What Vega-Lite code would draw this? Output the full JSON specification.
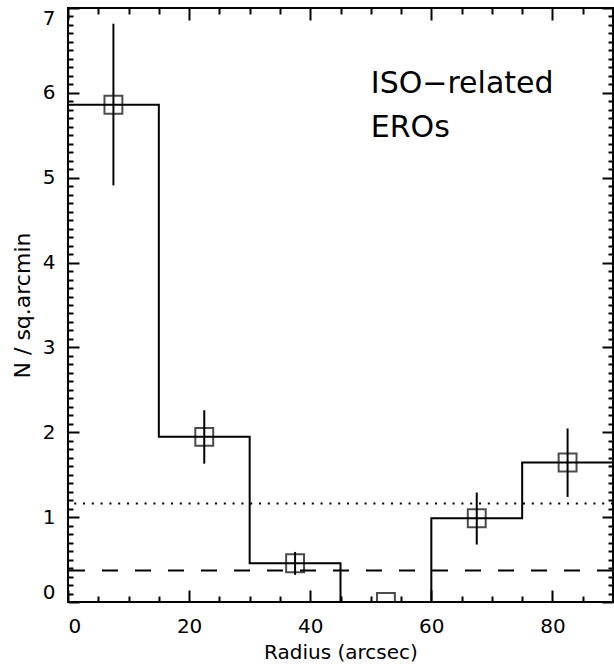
{
  "$schema": "https://vega.github.io/schema/vega-lite/v6.json",
  "width": 545,
  "height": 594,
  "autosize": "none",
  "padding": {"left": 68, "top": 8, "right": 1, "bottom": 64},
  "background": "white",
  "config": {
    "view": {"stroke": "black", "strokeWidth": 2},
    "font": "DejaVu Sans",
    "axis": {
      "grid": false,
      "domain": false,
      "ticks": true,
      "tickColor": "black",
      "tickWidth": 2,
      "labelColor": "black",
      "titleColor": "black",
      "labelFont": "DejaVu Sans",
      "titleFont": "DejaVu Sans",
      "labelFontSize": 20,
      "titleFontWeight": "normal"
    }
  },
  "datasets": {
    "bins": [
      {"r": 7.5, "n": 5.86, "lo": 4.91, "hi": 6.815},
      {"r": 22.5, "n": 1.946, "lo": 1.63, "hi": 2.26},
      {"r": 37.5, "n": 0.456, "lo": 0.32, "hi": 0.59},
      {"r": 52.5, "n": 0.0, "lo": 0.0, "hi": 0.0},
      {"r": 67.5, "n": 0.987, "lo": 0.677, "hi": 1.29},
      {"r": 82.5, "n": 1.644, "lo": 1.238, "hi": 2.045}
    ],
    "steps": [
      {"edge": 0, "n": 5.86},
      {"edge": 15, "n": 1.946},
      {"edge": 30, "n": 0.456},
      {"edge": 45, "n": 0.0},
      {"edge": 60, "n": 0.987},
      {"edge": 75, "n": 1.644},
      {"edge": 90, "n": 1.644}
    ],
    "refs": [
      {"level": 1.16, "kind": "dotted"},
      {"level": 0.37, "kind": "dashed"}
    ],
    "labels": [
      {"x": 50, "y": 6.0, "txt": "ISO−related"},
      {"x": 50, "y": 5.48, "txt": "EROs"}
    ]
  },
  "layer": [
    {
      "data": {"name": "steps"},
      "mark": {"type": "line", "interpolate": "step-after", "color": "black", "strokeWidth": 2, "clip": true},
      "encoding": {
        "x": {
          "field": "edge", "type": "quantitative",
          "scale": {"domain": [0, 90], "nice": false, "zero": false},
          "axis": {"orient": "bottom", "values": [0, 20, 40, 60, 80], "offset": -12, "tickSize": 12, "labelPadding": 14,
                   "title": "Radius (arcsec)", "titleFontSize": 20, "titlePadding": 6}
        },
        "y": {
          "field": "n", "type": "quantitative",
          "scale": {"domain": [0, 7], "nice": false, "zero": false},
          "axis": {"orient": "left", "values": [0, 1, 2, 3, 4, 5, 6, 7], "offset": -11, "tickSize": 11, "labelPadding": 13,
                   "labelFlush": true, "title": "N / sq.arcmin", "titleFontSize": 22, "titlePadding": 8}
        }
      }
    },
    {
      "data": {"name": "bins"},
      "mark": {"type": "rule", "color": "black", "strokeWidth": 2},
      "encoding": {
        "x": {"field": "r", "type": "quantitative",
              "axis": {"orient": "bottom", "values": [5, 10, 15, 25, 30, 35, 45, 50, 55, 65, 70, 75, 85], "offset": -6, "tickSize": 6, "labels": false, "title": null}},
        "y": {"field": "lo", "type": "quantitative",
              "axis": {"orient": "left", "values": [0.1,0.2,0.3,0.4,0.5,0.6,0.7,0.8,0.9,1.1,1.2,1.3,1.4,1.5,1.6,1.7,1.8,1.9,2.1,2.2,2.3,2.4,2.5,2.6,2.7,2.8,2.9,3.1,3.2,3.3,3.4,3.5,3.6,3.7,3.8,3.9,4.1,4.2,4.3,4.4,4.5,4.6,4.7,4.8,4.9,5.1,5.2,5.3,5.4,5.5,5.6,5.7,5.8,5.9,6.1,6.2,6.3,6.4,6.5,6.6,6.7,6.8,6.9], "offset": -5, "tickSize": 5, "labels": false, "title": null}},
        "y2": {"field": "hi"}
      }
    },
    {
      "data": {"name": "bins"},
      "mark": {"type": "point", "shape": "square", "filled": false, "size": 320, "color": "black", "strokeWidth": 2, "clip": true},
      "encoding": {
        "x": {"field": "r", "type": "quantitative",
              "axis": {"orient": "top", "values": [0, 20, 40, 60, 80], "offset": -12, "tickSize": 12, "labels": false, "title": null}},
        "y": {"field": "n", "type": "quantitative",
              "axis": {"orient": "right", "values": [0, 1, 2, 3, 4, 5, 6, 7], "offset": -11, "tickSize": 11, "labels": false, "title": null}}
      }
    },
    {
      "data": {"name": "labels"},
      "mark": {"type": "text", "align": "left", "baseline": "alphabetic", "fontSize": 30, "font": "DejaVu Sans", "color": "black"},
      "encoding": {
        "x": {"field": "x", "type": "quantitative",
              "axis": {"orient": "top", "values": [5, 10, 15, 25, 30, 35, 45, 50, 55, 65, 70, 75, 85], "offset": -6, "tickSize": 6, "labels": false, "title": null}},
        "y": {"field": "y", "type": "quantitative",
              "axis": {"orient": "right", "values": [0.1,0.2,0.3,0.4,0.5,0.6,0.7,0.8,0.9,1.1,1.2,1.3,1.4,1.5,1.6,1.7,1.8,1.9,2.1,2.2,2.3,2.4,2.5,2.6,2.7,2.8,2.9,3.1,3.2,3.3,3.4,3.5,3.6,3.7,3.8,3.9,4.1,4.2,4.3,4.4,4.5,4.6,4.7,4.8,4.9,5.1,5.2,5.3,5.4,5.5,5.6,5.7,5.8,5.9,6.1,6.2,6.3,6.4,6.5,6.6,6.7,6.8,6.9], "offset": -5, "tickSize": 5, "labels": false, "title": null}},
        "text": {"field": "txt"}
      }
    },
    {
      "data": {"name": "refs"},
      "transform": [{"filter": "datum.kind === 'dotted'"}],
      "mark": {"type": "rule", "color": "black", "strokeWidth": 2, "strokeDash": [2, 6.8]},
      "encoding": {"y": {"field": "level", "type": "quantitative", "axis": null}}
    },
    {
      "data": {"name": "refs"},
      "transform": [{"filter": "datum.kind === 'dashed'"}],
      "mark": {"type": "rule", "color": "black", "strokeWidth": 2, "strokeDash": [16, 17]},
      "encoding": {"y": {"field": "level", "type": "quantitative", "axis": null}}
    }
  ],
  "resolve": {"axis": {"x": "independent", "y": "independent"}}
}
